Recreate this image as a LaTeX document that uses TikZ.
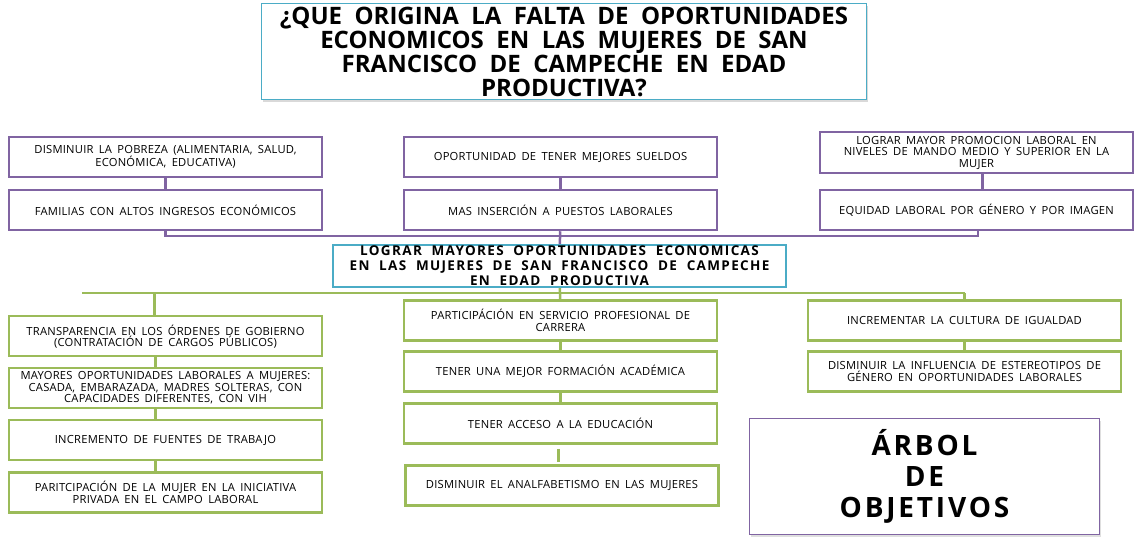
\documentclass[tikz,border=0pt]{standalone}
\usepackage{fontspec}
\setmainfont{Open Sans}
\newfontfamily\titlefont{Open Sans}[WordSpace=2]
\newfontfamily\goalfont{Open Sans}[LetterSpace=10,WordSpace=2]
\newfontfamily\boxfont{Open Sans}[LetterSpace=2,WordSpace=1.7]
\newfontfamily\tagfont{Open Sans}[LetterSpace=10,WordSpace=2]
\usetikzlibrary{positioning,shadows}
\definecolor{offpurple}{HTML}{8064A2}
\definecolor{offgreen}{HTML}{9BBB59}
\definecolor{offcyan}{HTML}{4BACC6}

\begin{document}
\begin{tikzpicture}[x=1pt, y=-1pt,
        effbox/.style={rectangle, draw=offpurple, line width=2.5pt, fill=white,
                       minimum width=313pt, minimum height=40pt, align=center, inner sep=1pt,
                       font={\boxfont\fontsize{11.2}{11.5}\selectfont}},
        meanbox/.style={effbox, draw=offgreen},
        goalbox/.style={rectangle, draw=offcyan, line width=2.5pt, fill=white,
                        minimum width=453pt, minimum height=40pt, align=center, inner sep=1pt,
                        font={\goalfont\bfseries\fontsize{13.5}{15}\selectfont}},
        titlebox/.style={rectangle, draw=offcyan, line width=1.5pt, fill=white,
                         minimum width=605pt, minimum height=96pt, align=center, inner sep=1pt,
                         drop shadow={shadow xshift=1.5pt, shadow yshift=-3pt, opacity=0.3},
                         font={\titlefont\bfseries\fontsize{24}{24}\selectfont}},
        tagbox/.style={rectangle, draw=offpurple, line width=1.2pt, fill=white,
                       minimum width=350pt, minimum height=116pt, align=center,
                       drop shadow={shadow xshift=1pt, shadow yshift=-2pt, opacity=0.25},
                       font={\tagfont\bfseries\fontsize{28}{31}\selectfont}},
        purpline/.style={draw=offpurple, line width=2.5pt},
        greenline/.style={draw=offgreen, line width=2.5pt}]
        \useasboundingbox (0,0) rectangle (1143,540);
        \node[titlebox] (question) at (564,51.5) {¿QUE ORIGINA LA FALTA DE OPORTUNIDADES\\ECONOMICOS EN LAS MUJERES DE SAN\\FRANCISCO DE CAMPECHE EN EDAD\\PRODUCTIVA?};
        \node[effbox] (pobreza) at (165.5,157) {DISMINUIR LA POBREZA (ALIMENTARIA, SALUD,\\ECONÓMICA, EDUCATIVA)};
        \node[effbox, below=10.5pt of pobreza] (familias) {FAMILIAS CON ALTOS INGRESOS ECONÓMICOS};
        \node[effbox] (sueldos) at (560.5,157) {OPORTUNIDAD DE TENER MEJORES SUELDOS};
        \node[effbox, below=10.5pt of sueldos] (insercion) {MAS INSERCIÓN A PUESTOS LABORALES};
        \node[effbox, minimum height=41pt] (promocion) at (976.5,152.5) {LOGRAR MAYOR PROMOCION LABORAL EN\\NIVELES DE MANDO MEDIO Y SUPERIOR EN LA\\MUJER};
        \node[effbox, below=14.5pt of promocion] (equidad) {EQUIDAD LABORAL POR GÉNERO Y POR IMAGEN};
        \node[goalbox] (goal) at (559.5,266) {LOGRAR MAYORES OPORTUNIDADES ECONOMICAS\\EN LAS MUJERES DE SAN FRANCISCO DE CAMPECHE\\EN EDAD PRODUCTIVA};
        \node[meanbox] (transp) at (165.5,336) {\mbox{}\\TRANSPARENCIA EN LOS ÓRDENES DE GOBIERNO\\(CONTRATACIÓN DE CARGOS PÚBLICOS)};
        \node[meanbox, below=9.5pt of transp] (mujeres) {MAYORES OPORTUNIDADES LABORALES A MUJERES:\\CASADA, EMBARAZADA, MADRES SOLTERAS, CON\\CAPACIDADES DIFERENTES, CON VIH};
        \node[meanbox, below=9.5pt of mujeres] (fuentes) {INCREMENTO DE FUENTES DE TRABAJO};
        \node[meanbox, below=10pt of fuentes] (privada) {PARITCIPACIÓN DE LA MUJER EN LA INICIATIVA\\PRIVADA EN EL CAMPO LABORAL};
        \node[meanbox] (servicio) at (560.5,320.5) {PARTICIPÁCIÓN EN SERVICIO PROFESIONAL DE\\CARRERA};
        \node[meanbox, below=8.5pt of servicio] (formacion) {TENER UNA MEJOR FORMACIÓN ACADÉMICA};
        \node[meanbox, below=9.5pt of formacion] (acceso) {TENER ACCESO A LA EDUCACIÓN};
        \node[meanbox, below=19.5pt of acceso, xshift=1.5pt] (analfab) {DISMINUIR EL ANALFABETISMO EN LAS MUJERES};
        \node[meanbox] (igualdad) at (964.5,320.5) {INCREMENTAR LA CULTURA DE IGUALDAD};
        \node[meanbox, below=8.5pt of igualdad] (estereo) {DISMINUIR LA INFLUENCIA DE ESTEREOTIPOS DE\\GÉNERO EN OPORTUNIDADES LABORALES};
        \node[tagbox] (arbol) at (924.5,476.5) {ÁRBOL\\DE\\OBJETIVOS};
        \draw[purpline] (pobreza) -- (familias);
        \draw[purpline] (sueldos) -- (insercion);
        \draw[purpline] ([xshift=6pt]promocion.south) -- ([xshift=6pt]equidad.north);
        \draw[purpline] (familias.south) -- ++(0,5) -| ([xshift=1.5pt]equidad.south);
        \draw[purpline] (insercion) -- (goal);
        \coordinate (gleft) at (82,293);
        \draw[greenline] (gleft) -- (gleft -| igualdad.north);
        \draw[greenline] (goal) -- (servicio);
        \draw[greenline] ([xshift=-11pt]transp.north) -- ([xshift=-11pt]transp.north |- gleft);
        \draw[greenline] (igualdad.north) -- (igualdad.north |- gleft);
        \draw[greenline] ([xshift=-10pt]transp.south) -- ([xshift=-10pt]mujeres.north);
        \draw[greenline] ([xshift=-10pt]mujeres.south) -- ([xshift=-10pt]fuentes.north);
        \draw[greenline] ([xshift=-10pt]fuentes.south) -- ([xshift=-10pt]privada.north);
        \draw[greenline] (servicio) -- (formacion);
        \draw[greenline] (formacion) -- (acceso);
        \draw[greenline] ([yshift=-4pt,xshift=-2pt]acceso.south) -- ([yshift=-17pt,xshift=-2pt]acceso.south);
        \draw[greenline] (igualdad) -- (estereo);
\end{tikzpicture}
\end{document}
